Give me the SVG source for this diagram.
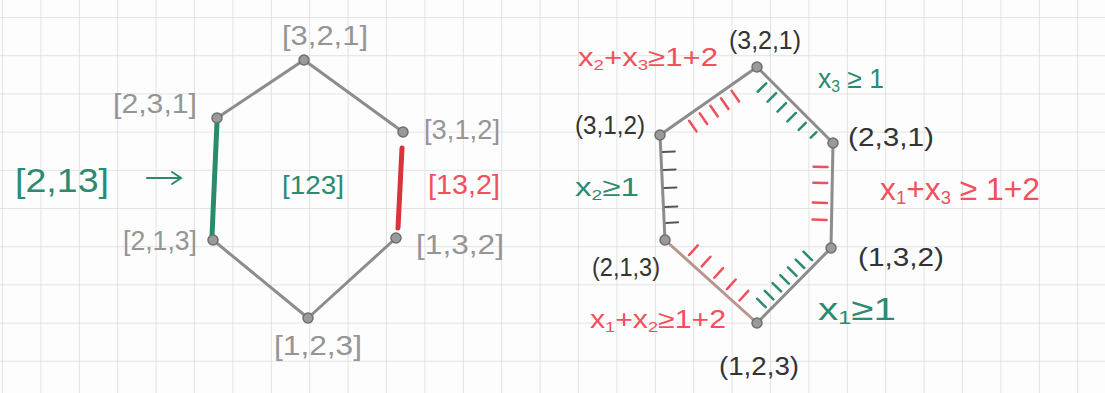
<svg xmlns="http://www.w3.org/2000/svg" width="1105" height="393" viewBox="0 0 1105 393">
<defs>
<pattern id="grid" x="2" y="17" width="38.4" height="38.2" patternUnits="userSpaceOnUse">
<path d="M0 0 V38.2 M0 0 H38.4" fill="none" stroke="#dcdcdc" stroke-width="1.6"/>
</pattern>
<style>
.pen{fill:none;stroke:#8c8c8c;stroke-width:3;stroke-linecap:round}
.dot{fill:#9a9a9a;stroke:#6e6e6e;stroke-width:1.5}
.gl{font-family:"Liberation Sans",Arial,sans-serif;font-size:27px;fill:#959595}
.dk{font-family:"Liberation Sans",Arial,sans-serif;font-size:26px;fill:#333}
.gr{font-family:"Liberation Sans",Arial,sans-serif;fill:#2c8a72}
.rd{font-family:"Liberation Sans",Arial,sans-serif;fill:#f2505c}
.hr{stroke:#f0505a;stroke-width:2.5;stroke-linecap:round}
.hg{stroke:#2c8a72;stroke-width:2.5;stroke-linecap:round}
.hd{stroke:#555;stroke-width:2;stroke-linecap:round}
</style>
</defs>
<rect width="1105" height="393" fill="#fdfdfd"/>
<rect width="1105" height="393" fill="url(#grid)"/>

<g id="connectors">
  <!-- left hexagon -->
  <path class="pen" d="M304 60 L217 118"/>
  <path class="pen" d="M304 60 L403 132"/>
  <path class="pen" d="M213 240 L308 318"/>
  <path class="pen" d="M396 238 L308 318"/>
  <path d="M217 122 L212 236" stroke="#2a8a6c" stroke-width="5" stroke-linecap="round" fill="none"/>
  <path d="M402 148 L398 228" stroke="#d8343c" stroke-width="5" stroke-linecap="round" fill="none"/>
  <path d="M147 178 L180 178 M172 172 L181 178 L172 184" stroke="#2c8a72" stroke-width="2" fill="none" stroke-linecap="round"/>
  <!-- right hexagon -->
  <path class="pen" d="M757 67 L833 143"/>
  <path class="pen" d="M833 143 L831 248"/>
  <path class="pen" d="M831 248 L757 323"/>
  <path d="M757 323 L665 240" stroke="#b8968c" stroke-width="3" fill="none" stroke-linecap="round"/>
  <path class="pen" d="M665 240 L660 135"/>
  <path class="pen" d="M660 135 L757 67"/>
  <!-- hatches -->
  <g transform="translate(757 67) rotate(45)">
    <path class="hg" d="M18 5 L18 17 M32 5 L32 17 M46 5 L46 17 M60 5 L60 17 M74 5 L74 15 M88 4 L88 12"/>
  </g>
  <g transform="translate(833 143) rotate(91.1)">
    <path class="hr" d="M24 5 L24 19 M40 5 L40 19 M60 5 L60 19 M77 5 L77 19"/>
  </g>
  <g transform="translate(831 248) rotate(134.6)">
    <path class="hg" d="M22 5 L22 17 M33 5 L33 17 M44 5 L44 17 M55 5 L55 17 M66 5 L66 17 M77 5 L77 17 M88 5 L88 17"/>
  </g>
  <g transform="translate(757 323) rotate(222.06)">
    <path class="hr" d="M28 5 L28 18 M45 5 L45 18 M62 5 L62 18 M79 5 L79 18 M96 5 L96 18"/>
  </g>
  <g transform="translate(665 240) rotate(267.3)">
    <path class="hd" d="M17 2 L17 14 M33 2 L33 14 M52 2 L52 14 M70 2 L70 14 M88 2 L88 14"/>
  </g>
  <g transform="translate(660 135) rotate(-35.03)">
    <path class="hr" d="M32 5 L32 18 M45 5 L45 18 M58 5 L58 18 M71 5 L71 18 M84 5 L84 18"/>
  </g>
</g>

<g id="L321"><circle class="dot" cx="304" cy="60" r="5"/><text class="gl" x="325" y="45" text-anchor="middle" textLength="86" lengthAdjust="spacingAndGlyphs">[3,2,1]</text></g>
<g id="L231"><circle class="dot" cx="217" cy="118" r="5"/><text class="gl" x="155" y="113" text-anchor="middle" textLength="84" lengthAdjust="spacingAndGlyphs">[2,3,1]</text></g>
<g id="L312"><circle class="dot" cx="403" cy="132" r="5"/><text class="gl" x="462" y="139" text-anchor="middle" textLength="76" lengthAdjust="spacingAndGlyphs">[3,1,2]</text></g>
<g id="L213"><circle class="dot" cx="213" cy="240" r="5"/><text class="gl" x="160" y="250" text-anchor="middle" textLength="74" lengthAdjust="spacingAndGlyphs">[2,1,3]</text></g>
<g id="L132"><circle class="dot" cx="396" cy="238" r="5"/><text class="gl" x="460" y="254" text-anchor="middle" textLength="88" lengthAdjust="spacingAndGlyphs">[1,3,2]</text></g>
<g id="L123"><circle class="dot" cx="308" cy="318" r="5"/><text class="gl" x="318" y="355" text-anchor="middle" textLength="88" lengthAdjust="spacingAndGlyphs">[1,2,3]</text></g>
<g id="Lface"><text class="gr" x="313" y="194" font-size="26" text-anchor="middle" textLength="62" lengthAdjust="spacingAndGlyphs">[123]</text></g>
<g id="Ledge1"><text class="gr" x="62" y="192" font-size="34" text-anchor="middle" textLength="94" lengthAdjust="spacingAndGlyphs">[2,13]</text></g>
<g id="Ledge2"><text class="rd" x="464" y="194" font-size="28" text-anchor="middle" textLength="72" lengthAdjust="spacingAndGlyphs">[13,2]</text></g>

<g id="R321"><circle class="dot" cx="757" cy="67" r="5"/><text class="dk" x="765" y="49" text-anchor="middle" textLength="72" lengthAdjust="spacingAndGlyphs">(3,2,1)</text></g>
<g id="R312"><circle class="dot" cx="660" cy="135" r="5"/><text class="dk" x="610" y="134" text-anchor="middle" textLength="70" lengthAdjust="spacingAndGlyphs">(3,1,2)</text></g>
<g id="R231"><circle class="dot" cx="833" cy="143" r="5"/><text class="dk" x="891" y="146" text-anchor="middle" textLength="86" lengthAdjust="spacingAndGlyphs">(2,3,1)</text></g>
<g id="R213"><circle class="dot" cx="665" cy="240" r="5"/><text class="dk" x="626" y="276" text-anchor="middle" textLength="68" lengthAdjust="spacingAndGlyphs">(2,1,3)</text></g>
<g id="R132"><circle class="dot" cx="831" cy="248" r="5"/><text class="dk" x="901" y="266" text-anchor="middle" textLength="86" lengthAdjust="spacingAndGlyphs">(1,3,2)</text></g>
<g id="R123"><circle class="dot" cx="757" cy="323" r="5"/><text class="dk" x="759" y="375" text-anchor="middle" textLength="80" lengthAdjust="spacingAndGlyphs">(1,2,3)</text></g>

<g id="c23"><text class="rd" x="578" y="66" font-size="25" textLength="140" lengthAdjust="spacingAndGlyphs">x<tspan font-size="15" dy="4">2</tspan><tspan dy="-4">+x</tspan><tspan font-size="15" dy="4">3</tspan><tspan dy="-4">≥1+2</tspan></text></g>
<g id="c3"><text class="gr" x="818" y="88" font-size="27" textLength="66" lengthAdjust="spacingAndGlyphs">x<tspan font-size="16" dy="4">3</tspan><tspan dy="-4"> ≥ 1</tspan></text></g>
<g id="c2"><text class="gr" x="575" y="196" font-size="26" textLength="64" lengthAdjust="spacingAndGlyphs">x<tspan font-size="15" dy="4">2</tspan><tspan dy="-4">≥1</tspan></text></g>
<g id="c13"><text class="rd" x="880" y="200" font-size="31" textLength="160" lengthAdjust="spacingAndGlyphs">x<tspan font-size="18" dy="4">1</tspan><tspan dy="-4">+x</tspan><tspan font-size="18" dy="4">3</tspan><tspan dy="-4"> ≥ 1+2</tspan></text></g>
<g id="c12"><text class="rd" x="590" y="328" font-size="25" textLength="136" lengthAdjust="spacingAndGlyphs">x<tspan font-size="15" dy="4">1</tspan><tspan dy="-4">+x</tspan><tspan font-size="15" dy="4">2</tspan><tspan dy="-4">≥1+2</tspan></text></g>
<g id="c1"><text class="gr" x="818" y="320" font-size="31" textLength="78" lengthAdjust="spacingAndGlyphs">x<tspan font-size="18" dy="4">1</tspan><tspan dy="-4">≥1</tspan></text></g>
</svg>
